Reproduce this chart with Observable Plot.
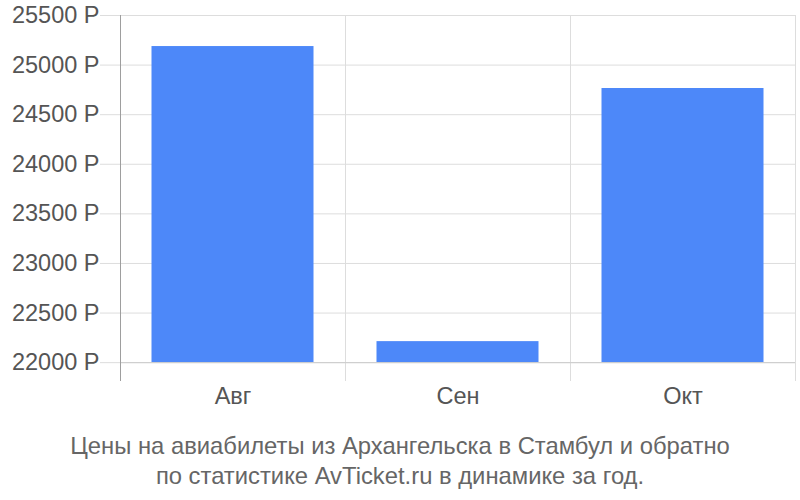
<!DOCTYPE html>
<html>
<head>
<meta charset="utf-8">
<script src="https://cdn.jsdelivr.net/npm/d3@7"></script>
<script src="https://cdn.jsdelivr.net/npm/@observablehq/plot@0.6"></script>
<style>
  body { margin: 0; background: #fff; font-family: "Liberation Sans", Arial, sans-serif; }
  #chart svg { display: block; }
  #caption { text-align: center; color: #666; font-size: 23.8px; line-height: 30px; margin-top: 21px; }
</style>
</head>
<body>
<div id="chart"></div>
<div id="caption">Цены на авиабилеты из Архангельска в Стамбул и обратно<br>по статистике AvTicket.ru в динамике за год.</div>
<script>
const months = ["Авг", "Сен", "Окт"];
const prices = [25187, 22212, 24764];
const baseline = 22000;
const yTicks = [22000, 22500, 23000, 23500, 24000, 24500, 25000, 25500];
const yDomain = [21810, 25500];
const currency = "Р";

const data = months.map((m, i) => ({month: m, price: prices[i]}));
const halfStep = 112.5;

const chart = Plot.plot({
  width: 800,
  height: 410,
  marginTop: 15,
  marginBottom: 29,
  marginLeft: 120,
  marginRight: 5,
  style: {fontFamily: "'Liberation Sans', Arial, sans-serif", background: "#fff"},
  x: {domain: months, padding: 0, label: null},
  y: {domain: yDomain, label: null},
  marks: [
    Plot.ruleY(yTicks, {y: d => d, stroke: "#dddddd", strokeWidth: 1}),
    Plot.axisY(yTicks, {tickSize: 20, stroke: "#dddddd", tickPadding: 1, fontSize: 23.5, fill: "#555", label: null, tickFormat: d => d + " " + currency}),
    Plot.ruleX(months, {x: d => d, dx: -halfStep, stroke: "#dddddd"}),
    Plot.ruleX([months[months.length - 1]], {x: d => d, dx: halfStep, stroke: "#dddddd"}),
    Plot.barY(data, {x: "month", y1: () => baseline, y2: "price", fill: "#4d88f9", insetLeft: 31.5, insetRight: 31.5}),
    Plot.ruleY([baseline], {stroke: "#cccccc"}),
    Plot.ruleX([months[0]], {x: d => d, dx: -halfStep, stroke: "#9e9e9e"}),
    Plot.axisX({tickSize: 0, tickPadding: 6, fontSize: 23.5, fill: "#555", label: null})
  ]
});
document.getElementById("chart").appendChild(chart);
</script>
</body>
</html>
